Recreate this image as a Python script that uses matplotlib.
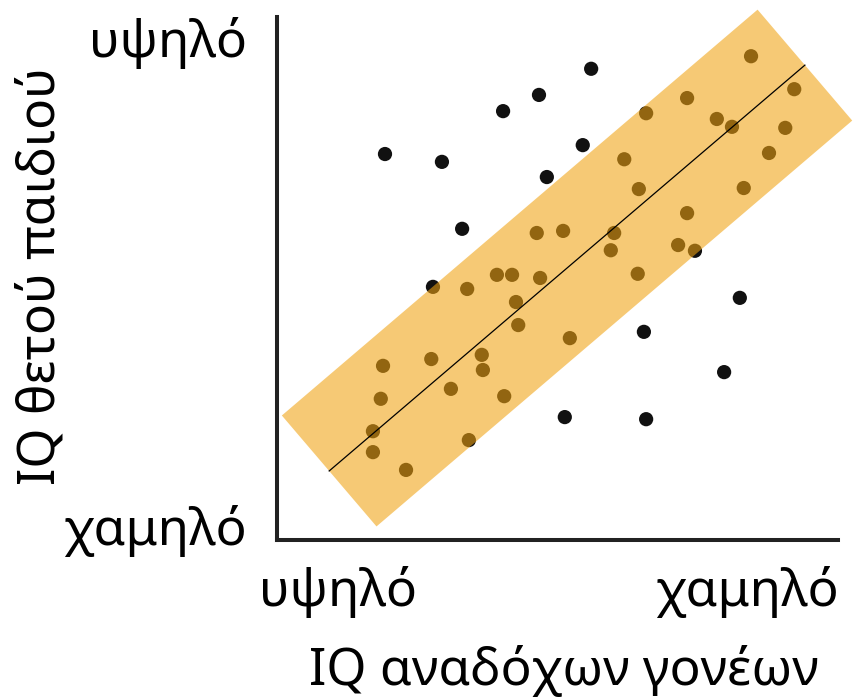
import matplotlib
matplotlib.use("Agg")
import matplotlib.pyplot as plt
import numpy as np

plt.rcParams['font.family'] = ['Noto Sans', 'DejaVu Sans']

# Data (arbitrary 0-100 units)
x_vals = [19.25, 29.4, 40.3, 46.7, 56.0, 48.1, 33.0, 54.5, 74.5, 82.5, 65.4, 79.7,
          51.3, 65.8, 27.8, 34.2,
          46.3, 51.0, 39.2, 41.9, 46.9, 84.5, 92.2, 73.1, 65.8, 78.4, 81.1, 90.6,
          61.9, 87.7, 64.5, 83.2, 73.1, 60.1, 59.5, 71.5, 64.3, 33.9, 42.6, 43.0,
          52.2, 18.9, 27.5, 36.5, 36.7, 31.0, 40.5, 18.5, 17.1, 17.1, 23.0]
y_vals = [73.8, 72.3, 82.0, 85.1, 90.1, 69.4, 59.5, 75.5, 55.3, 46.3, 39.8, 32.1,
          23.5, 23.1, 48.4, 19.1,
          58.7, 59.1, 50.7, 50.7, 50.1, 92.5, 86.2, 84.5, 81.6, 80.5, 79.0, 78.8,
          72.8, 74.0, 67.1, 67.3, 62.5, 58.7, 55.4, 56.4, 50.9, 48.0, 45.5, 41.1,
          38.6, 33.3, 34.6, 35.4, 32.5, 28.9, 27.5, 27.0, 20.8, 16.8, 13.4]
trend_x = [9.3, 94.1]
trend_y = [13.2, 90.8]

y_tick_labels = ['χαμηλό', 'υψηλό']
x_tick_labels = ['υψηλό', 'χαμηλό']
x_label = 'IQ αναδόχων γονέων'
y_label = 'IQ θετού παιδιού'

W, H = 858, 700
fig = plt.figure(figsize=(W / 100, H / 100), dpi=100)
ax = fig.add_axes([277 / W, (H - 540) / H, (838 - 277) / W, (540 - 17) / H])
ax.set_xlim(0, 100)
ax.set_ylim(0, 100)

ax.scatter(x_vals, y_vals, s=105, color='#111111', edgecolors='none', zorder=2, clip_on=False)
ax.plot(trend_x, trend_y, color='#F1A311', alpha=0.58, lw=105, solid_capstyle='butt',
        zorder=3, clip_on=False)
ax.plot(trend_x, trend_y, color='black', lw=0.9, zorder=4, clip_on=False)

for s in ['top', 'right']:
    ax.spines[s].set_visible(False)
for s in ['left', 'bottom']:
    ax.spines[s].set_linewidth(2.9)
    ax.spines[s].set_color('#222222')
ax.set_xticks([])
ax.set_yticks([])

fs = 37


def px(x, y):
    return x / W, (H - y) / H


fig.text(*px(247, 57), y_tick_labels[1], ha='right', va='baseline', fontsize=fs)
fig.text(*px(247, 545), y_tick_labels[0], ha='right', va='baseline', fontsize=fs)
fig.text(*px(259, 606), x_tick_labels[0], ha='left', va='baseline', fontsize=fs)
fig.text(*px(839, 606), x_tick_labels[1], ha='right', va='baseline', fontsize=fs)
fig.text(*px(564, 685), x_label, ha='center', va='baseline', fontsize=fs)
fig.text(*px(55, 276), y_label, ha='center', va='baseline', rotation=90,
         rotation_mode='anchor', fontsize=fs)

fig.savefig('out.png', dpi=100)
